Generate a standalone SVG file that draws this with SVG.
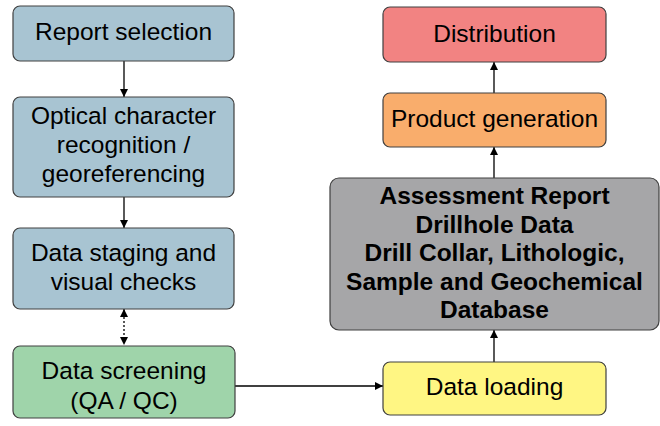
<svg xmlns="http://www.w3.org/2000/svg" width="660" height="426" viewBox="0 0 660 426">
<defs>
<style>
.box{stroke:#404040;stroke-width:1.2}
.t{font-family:"Liberation Sans",Arial,sans-serif;font-size:24.5px;fill:#000;text-anchor:middle;dominant-baseline:central}
.b{font-weight:bold}
.c{stroke:#000;stroke-width:1.3;fill:none}
</style>
<marker id="ah" viewBox="0 0 10 10" refX="10" refY="5" markerWidth="8" markerHeight="8" markerUnits="userSpaceOnUse" orient="auto-start-reverse"><path d="M0,0 L10,5 L0,10 z" fill="#000"/></marker>
</defs>
<rect width="660" height="426" fill="#fff"/>
<g id="connectors">
<line class="c" x1="124" y1="61" x2="124" y2="97" marker-end="url(#ah)"/>
<line class="c" x1="124" y1="197" x2="124" y2="228" marker-end="url(#ah)"/>
<line class="c" x1="124" y1="309" x2="124" y2="345" stroke-dasharray="2,2" marker-start="url(#ah)" marker-end="url(#ah)"/>
<line class="c" x1="235" y1="386" x2="383" y2="386" marker-end="url(#ah)"/>
<line class="c" x1="494" y1="362" x2="494" y2="330" marker-end="url(#ah)"/>
<line class="c" x1="494" y1="178" x2="494" y2="147" marker-end="url(#ah)"/>
<line class="c" x1="494" y1="93" x2="494" y2="62" marker-end="url(#ah)"/>
</g>
<g id="report-selection">
<rect class="box" x="13" y="6" width="221" height="55" rx="7" fill="#a8c4d2"/>
<text class="t" x="123.5" y="31.5">Report selection</text>
</g>
<g id="ocr">
<rect class="box" x="13" y="97" width="221" height="100" rx="7" fill="#a8c4d2"/>
<text class="t" x="123.5" y="115.5">Optical character</text>
<text class="t" x="123.5" y="144.5">recognition /</text>
<text class="t" x="123.5" y="173.5">georeferencing</text>
</g>
<g id="data-staging">
<rect class="box" x="13" y="228" width="221" height="81" rx="7" fill="#a8c4d2"/>
<text class="t" x="123.5" y="252.5">Data staging and</text>
<text class="t" x="123.5" y="281.5">visual checks</text>
</g>
<g id="data-screening">
<rect class="box" x="13" y="346" width="222" height="72" rx="7" fill="#9fd4aa"/>
<text class="t" x="124" y="370">Data screening</text>
<text class="t" x="124" y="400">(QA / QC)</text>
</g>
<g id="data-loading">
<rect class="box" x="383" y="362" width="223" height="53" rx="7" fill="#fff683"/>
<text class="t" x="494.5" y="386.5">Data loading</text>
</g>
<g id="database">
<rect class="box" x="330" y="178" width="329" height="152" rx="9" fill="#a6a6a8"/>
<text class="t b" x="494.5" y="195">Assessment Report</text>
<text class="t b" x="494.5" y="224">Drillhole Data</text>
<text class="t b" x="494.5" y="252">Drill Collar, Lithologic,</text>
<text class="t b" x="494.5" y="281">Sample and Geochemical</text>
<text class="t b" x="494.5" y="309">Database</text>
</g>
<g id="product-generation">
<rect class="box" x="383" y="93" width="223" height="54" rx="7" fill="#f9ad6c"/>
<text class="t" x="494.5" y="118">Product generation</text>
</g>
<g id="distribution">
<rect class="box" x="383" y="7" width="223" height="55" rx="7" fill="#f28382"/>
<text class="t" x="494.5" y="33.5">Distribution</text>
</g>
</svg>
